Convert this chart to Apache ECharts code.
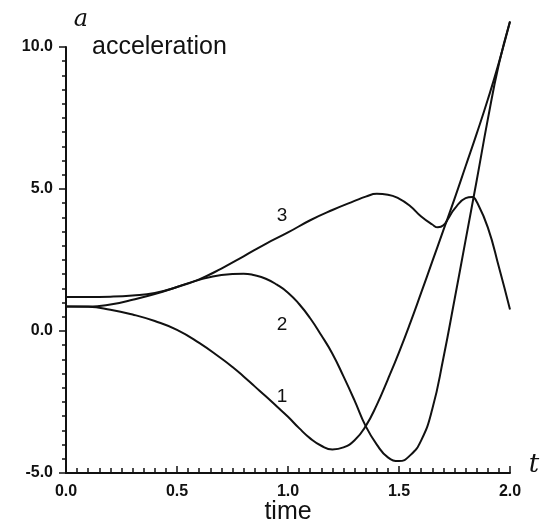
<!DOCTYPE html>
<html>
<head>
<meta charset="utf-8">
<script src="https://cdn.jsdelivr.net/npm/echarts@6/dist/echarts.min.js"></script>
<style>
  html, body { margin: 0; padding: 0; background: #fff; }
  #chart { width: 543px; height: 527px; }
</style>
</head>
<body>
<div id="chart"></div>
<script>
// time points and acceleration values, one pair of arrays per curve
const curve1T = [0, 0.1, 0.2, 0.3, 0.4, 0.5, 0.6, 0.7, 0.75, 0.8, 0.85, 0.9, 0.95, 1.0, 1.05, 1.1, 1.15, 1.2, 1.25, 1.3, 1.35, 1.4, 1.45, 1.5, 1.55, 1.6, 1.65, 1.7, 1.75, 1.8, 1.85, 1.9, 1.95, 2.0];
const curve1A = [0.86, 0.85, 0.75, 0.58, 0.35, 0.04, -0.42, -0.97, -1.27, -1.6, -1.95, -2.3, -2.66, -3.02, -3.42, -3.78, -4.04, -4.17, -4.1, -3.85, -3.35, -2.6, -1.7, -0.75, 0.27, 1.35, 2.45, 3.55, 4.65, 5.8, 6.95, 8.15, 9.45, 10.9];

const curve2T = [0, 0.1, 0.15, 0.2, 0.3, 0.4, 0.5, 0.6, 0.7, 0.8, 0.85, 0.9, 0.95, 1.0, 1.05, 1.1, 1.15, 1.2, 1.25, 1.3, 1.35, 1.4, 1.45, 1.5, 1.55, 1.6, 1.65, 1.7, 1.75, 1.8, 1.85, 1.9, 1.95, 2.0];
const curve2A = [0.86, 0.86, 0.88, 0.93, 1.1, 1.3, 1.55, 1.8, 1.97, 2.02, 1.96, 1.84, 1.63, 1.35, 0.95, 0.45, -0.15, -0.8, -1.6, -2.45, -3.35, -4.0, -4.45, -4.58, -4.38, -3.85, -2.75, -0.95, 1.1, 3.2, 5.3, 7.45, 9.4, 10.9];

const curve3T = [0, 0.1, 0.2, 0.3, 0.4, 0.5, 0.6, 0.7, 0.8, 0.9, 1.0, 1.1, 1.2, 1.3, 1.35, 1.4, 1.45, 1.5, 1.55, 1.6, 1.65, 1.675, 1.7, 1.725, 1.75, 1.8, 1.83, 1.85, 1.9, 1.95, 2.0];
const curve3A = [1.2, 1.2, 1.21, 1.25, 1.34, 1.55, 1.82, 2.2, 2.63, 3.07, 3.47, 3.9, 4.26, 4.58, 4.73, 4.83, 4.8, 4.66, 4.4, 4.03, 3.75, 3.65, 3.72, 4.0, 4.3, 4.68, 4.72, 4.55, 3.65, 2.25, 0.76];

const curveNames = ['1', '2', '3'];
const xTicks = { min: 0, max: 2, step: 0.5 };
const yTicks = { min: -5, max: 10, step: 5 };

function pairs(ts, as) {
  return ts.map((t, i) => [t, as[i]]);
}

const chart = echarts.init(document.getElementById('chart'));

const lineStyle = { color: '#111', width: 2 };
const tickLabel = { color: '#111', fontFamily: 'Liberation Sans', fontWeight: 'bold', fontSize: 16 };
const bigText = '25px "Liberation Sans"';
const numText = '19px "Liberation Sans"';

const option = {
  animation: false,
  backgroundColor: '#fff',
  grid: { left: 66, right: 33, top: 47, bottom: 54 },
  xAxis: {
    type: 'value',
    min: xTicks.min,
    max: xTicks.max,
    interval: xTicks.step,
    axisLine: { onZero: false, lineStyle: { color: '#111', width: 2 } },
    axisTick: { inside: true, length: 7, lineStyle: { color: '#111', width: 1.5 } },
    minorTick: { show: true, splitNumber: 10, length: 5, lineStyle: { color: '#111', width: 1.5 } },
    splitLine: { show: false },
    axisLabel: Object.assign({ margin: 11, formatter: v => v.toFixed(1) }, tickLabel)
  },
  yAxis: {
    type: 'value',
    min: yTicks.min,
    max: yTicks.max,
    interval: yTicks.step,
    axisLine: { onZero: false, lineStyle: { color: '#111', width: 2 } },
    axisTick: { inside: false, length: 7, lineStyle: { color: '#111', width: 1.5 } },
    minorTick: { show: true, splitNumber: 10, length: 4, lineStyle: { color: '#111', width: 1.5 } },
    splitLine: { show: false },
    axisLabel: Object.assign({ margin: 13, formatter: v => v.toFixed(1) }, tickLabel)
  },
  series: [
    { name: curveNames[0], data: pairs(curve1T, curve1A) },
    { name: curveNames[1], data: pairs(curve2T, curve2A) },
    { name: curveNames[2], data: pairs(curve3T, curve3A) }
  ].map(s => Object.assign({
    type: 'line',
    smooth: true,
    showSymbol: false,
    clip: false,
    lineStyle: lineStyle
  }, s)),
  graphic: [
    { type: 'text', x: 81, y: 20, style: { text: 'a', font: 'italic 24px "DejaVu Serif"', fill: '#111', align: 'center', verticalAlign: 'middle' } },
    { type: 'text', x: 92, y: 47, style: { text: 'acceleration', font: bigText, fill: '#111', align: 'left', verticalAlign: 'middle' } },
    { type: 'text', x: 534, y: 465, style: { text: 't', font: 'italic 26px "DejaVu Serif"', fill: '#111', align: 'center', verticalAlign: 'middle' } },
    { type: 'text', x: 288, y: 512, style: { text: 'time', font: bigText, fill: '#111', align: 'center', verticalAlign: 'middle' } },
    { type: 'text', x: 282, y: 216, style: { text: curveNames[2], font: numText, fill: '#111', align: 'center', verticalAlign: 'middle' } },
    { type: 'text', x: 282, y: 325, style: { text: curveNames[1], font: numText, fill: '#111', align: 'center', verticalAlign: 'middle' } },
    { type: 'text', x: 282, y: 397, style: { text: curveNames[0], font: numText, fill: '#111', align: 'center', verticalAlign: 'middle' } }
  ]
};

chart.setOption(option);
</script>
</body>
</html>
